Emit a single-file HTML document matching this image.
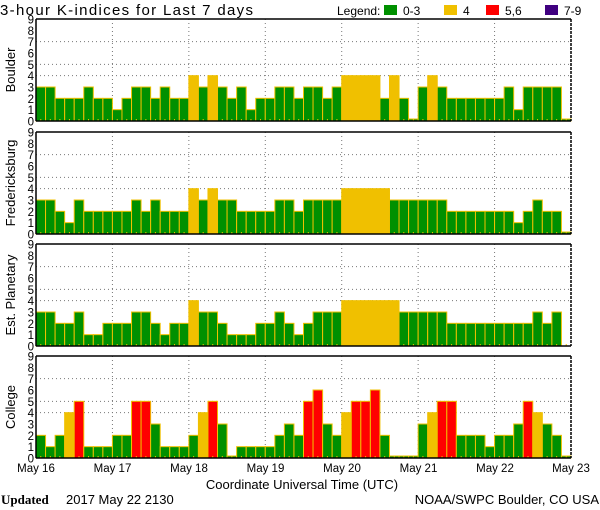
<!DOCTYPE html>
<html><head><meta charset="utf-8">
<style>
html,body{margin:0;padding:0;background:#fff;}
svg{display:block;font-family:"Liberation Sans",sans-serif;}
</style></head>
<body>
<svg id="s" width="600" height="510" xmlns="http://www.w3.org/2000/svg">
<text x="0" y="15" font-size="15" fill="#000" textLength="253">3-hour K-indices for Last 7 days</text>
<text x="337" y="15" font-size="12" fill="#000">Legend:</text>
<rect x="384" y="5" width="13" height="10" fill="#009000"/>
<text x="403" y="15" font-size="12">0-3</text>
<rect x="444" y="5" width="13" height="10" fill="#f0c000"/>
<text x="463" y="15" font-size="12">4</text>
<rect x="486" y="5" width="13" height="10" fill="#ff0000"/>
<text x="505" y="15" font-size="12">5,6</text>
<rect x="545" y="5" width="13" height="10" fill="#400080"/>
<text x="564" y="15" font-size="12">7-9</text>
<g id="panels"></g>
<g font-size="11.5" fill="#000" text-anchor="middle">
<text x="36" y="472">May 16</text>
<text x="112.5" y="472">May 17</text>
<text x="189" y="472">May 18</text>
<text x="265.5" y="472">May 19</text>
<text x="342" y="472">May 20</text>
<text x="418.5" y="472">May 21</text>
<text x="495" y="472">May 22</text>
<text x="571" y="472">May 23</text>
</g>
<text x="302" y="489" font-size="13" text-anchor="middle">Coordinate Universal Time (UTC)</text>
<text x="1" y="504" font-size="13" font-family="Liberation Serif,serif" font-weight="bold">Updated</text>
<text x="66" y="504" font-size="13">2017 May 22 2130</text>
<text x="599" y="504" font-size="13" text-anchor="end">NOAA/SWPC Boulder, CO USA</text>
</svg>
<script>
var data={
"Boulder":[3,3,2,2,2,3,2,2, 1,2,3,3,2,3,2,2, 4,3,4,3,2,3,1,2, 2,3,3,2,3,3,2,3, 4,4,4,4,2,4,2,0, 3,4,3,2,2,2,2,2, 2,3,1,3,3,3,3,0],
"Fredericksburg":[3,3,2,1,3,2,2,2, 2,2,3,2,3,2,2,2, 4,3,4,3,3,2,2,2, 2,3,3,2,3,3,3,3, 4,4,4,4,4,3,3,3, 3,3,3,2,2,2,2,2, 2,2,1,2,3,2,2,0],
"Est. Planetary":[3,3,2,2,3,1,1,2, 2,2,3,3,2,1,2,2, 4,3,3,2,1,1,1,2, 2,3,2,1,2,3,3,3, 4,4,4,4,4,4,3,3, 3,3,3,2,2,2,2,2, 2,2,2,2,3,2,3,-1],
"College":[2,1,2,4,5,1,1,1, 2,2,5,5,3,1,1,1, 2,4,5,3,0,1,1,1, 1,2,3,2,5,6,3,2, 4,5,5,6,2,0,0,0, 3,4,5,5,2,2,2,1, 2,2,3,5,4,3,2,0]
};
var tops=[19,132,244,356];
var L=36,R=571,H=102,bw=(R-L)/56,u=H/9;
var h='';
var names=Object.keys(data);
names.forEach(function(n,pi){
 var t=tops[pi],b=t+H;
 [4,5,7].forEach(function(k){var y=b-k*u;h+='<line x1="'+L+'" x2="'+R+'" y1="'+y+'" y2="'+y+'" stroke="#777" stroke-dasharray="1,3"/>';});
 for(var d=1;d<7;d++){var x=L+d*8*bw;h+='<line x1="'+x+'" x2="'+x+'" y1="'+t+'" y2="'+b+'" stroke="#777" stroke-dasharray="1,3"/>';}
 data[n].forEach(function(v,i){
  var x=L+i*bw;
  if(v>=0){
   var c=v<=3?'#009000':v==4?'#f0c000':v<=6?'#ff0000':'#400080';
   var hh=v==0?2:v*u;
   h+='<rect x="'+x+'" y="'+(b-hh)+'" width="'+bw+'" height="'+hh+'" fill="'+c+'" stroke="#f0c000" stroke-width="1"/>';
  }
  h+='<rect x="'+(x+bw/2-0.5)+'" y="'+(b-2)+'" width="1" height="2" fill="#f0c000"/>';
 });
 h+='<line x1="'+L+'" x2="'+R+'" y1="'+t+'" y2="'+t+'" stroke="#000" stroke-width="1.5"/>';
 h+='<line x1="'+L+'" x2="'+R+'" y1="'+b+'" y2="'+b+'" stroke="#000" stroke-width="1.5"/>';
 h+='<line x1="'+L+'" x2="'+L+'" y1="'+t+'" y2="'+b+'" stroke="#000" stroke-width="1.5"/>';
 h+='<line x1="'+R+'" x2="'+R+'" y1="'+t+'" y2="'+b+'" stroke="#000" stroke-width="1.5" stroke-dasharray="3,1"/>';
 for(var k=0;k<=9;k++){h+='<text x="34" y="'+(b-k*u+4.5)+'" font-size="11.5" text-anchor="end">'+k+'</text>';}
 var cy=t+H/2;
 h+='<text transform="translate(15,'+cy+') rotate(-90)" font-size="13" text-anchor="middle">'+n+'</text>';
});
document.getElementById('panels').innerHTML=h;
</script>
</body></html>
